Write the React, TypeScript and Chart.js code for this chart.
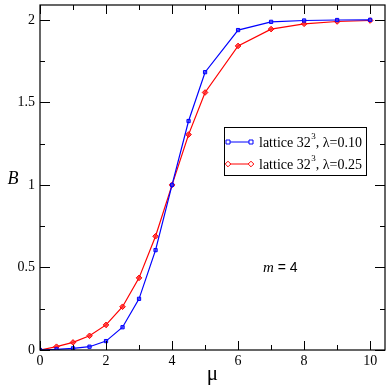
import React, { useEffect, useRef } from "react";
import { Chart, registerables } from "chart.js";

Chart.register(...registerables);

const mu = [0, 0.5, 1, 1.5, 2, 2.5, 3, 3.5, 4, 4.5, 5, 6, 7, 8, 9, 10];
const bLambda010 = [0, 0.004, 0.01, 0.02, 0.054, 0.138, 0.31, 0.605, 1.0, 1.387, 1.683, 1.938, 1.988, 1.996, 1.999, 2.0];
const bLambda025 = [0, 0.02, 0.046, 0.086, 0.152, 0.262, 0.437, 0.689, 1.0, 1.305, 1.56, 1.842, 1.944, 1.976, 1.99, 1.996];

const xMajorTicks = [0, 2, 4, 6, 8, 10];
const xMinorTicks = [1, 3, 5, 7, 9];
const yMajorTicks = [0, 0.5, 1, 1.5, 2];
const yMinorTicks = [0.25, 0.75, 1.25, 1.75];

const seriesLabels = ["λ=0.10", "λ=0.25"];
const FONT = "'Liberation Serif', 'Times New Roman', serif";
const SANS = "'Liberation Sans', Arial, sans-serif";

const framePlugin = {
  id: "frame",
  afterDraw(chart: any) {
    const { ctx, chartArea, scales } = chart;
    const { left, right, top, bottom } = chartArea;
    const xs = scales.x;
    const ys = scales.y;
    ctx.save();
    ctx.strokeStyle = "#000";
    ctx.lineWidth = 1;
    ctx.beginPath();
    const line = (x1: number, y1: number, x2: number, y2: number) => {
      ctx.moveTo(x1, y1);
      ctx.lineTo(x2, y2);
    };
    xMajorTicks.forEach((v) => {
      const p = Math.round(xs.getPixelForValue(v)) + 0.5;
      line(p, bottom, p, bottom - 9);
      line(p, top, p, top + 9);
    });
    xMinorTicks.forEach((v) => {
      const p = Math.round(xs.getPixelForValue(v)) + 0.5;
      line(p, bottom, p, bottom - 5);
      line(p, top, p, top + 5);
    });
    yMajorTicks.forEach((v) => {
      const p = Math.round(ys.getPixelForValue(v)) + 0.5;
      line(left, p, left + 10, p);
      line(right, p, right - 10, p);
    });
    yMinorTicks.forEach((v) => {
      const p = Math.round(ys.getPixelForValue(v)) + 0.5;
      line(left, p, left + 5, p);
      line(right, p, right - 5, p);
    });
    ctx.stroke();
    ctx.lineWidth = 1.2;
    ctx.strokeRect(left, top, right - left, bottom - top);

    // tick labels
    ctx.fillStyle = "#000";
    ctx.font = `14px ${FONT}`;
    ctx.textAlign = "center";
    ctx.textBaseline = "top";
    xMajorTicks.forEach((v) => {
      ctx.fillText(String(v), xs.getPixelForValue(v), bottom + 4);
    });
    ctx.textAlign = "right";
    ctx.textBaseline = "middle";
    yMajorTicks.forEach((v) => {
      ctx.fillText(String(v), left - 5, ys.getPixelForValue(v));
    });

    // axis titles
    ctx.textAlign = "center";
    ctx.textBaseline = "middle";
    ctx.font = `italic 18px ${FONT}`;
    ctx.fillText("B", 13, 179);
    ctx.font = `21px ${FONT}`;
    ctx.fillText("μ", (left + right) / 2, 374);

    // annotation
    ctx.textAlign = "left";
    ctx.font = `italic 15px ${FONT}`;
    ctx.fillText("m", 263, 268);
    const mw = ctx.measureText("m").width;
    ctx.font = `14px ${SANS}`;
    ctx.fillText(" = 4", 263 + mw, 268);

    // legend
    const bx = 224, by = 127, bw = 142, bh = 48;
    ctx.fillStyle = "#fff";
    ctx.fillRect(bx, by, bw, bh);
    ctx.strokeStyle = "#000";
    ctx.lineWidth = 1;
    ctx.strokeRect(bx + 0.5, by + 0.5, bw, bh);
    const rows = [
      { y: 142, color: "#0000ff", style: "rect", label: seriesLabels[0] },
      { y: 164, color: "#ff0000", style: "rectRot", label: seriesLabels[1] },
    ];
    rows.forEach((r) => {
      ctx.strokeStyle = r.color;
      ctx.lineWidth = 1;
      ctx.beginPath();
      ctx.moveTo(228, r.y);
      ctx.lineTo(251, r.y);
      ctx.stroke();
      [228, 251].forEach((px) => {
        ctx.fillStyle = "#fff";
        ctx.beginPath();
        if (r.style === "rect") {
          ctx.rect(px - 2, r.y - 2, 4, 4);
        } else {
          ctx.moveTo(px, r.y - 2.8);
          ctx.lineTo(px + 2.8, r.y);
          ctx.lineTo(px, r.y + 2.8);
          ctx.lineTo(px - 2.8, r.y);
          ctx.closePath();
        }
        ctx.fill();
        ctx.stroke();
      });
      ctx.fillStyle = "#000";
      ctx.textAlign = "left";
      ctx.textBaseline = "middle";
      ctx.font = `14px ${FONT}`;
      let x = 259;
      const t1 = "lattice 32";
      ctx.fillText(t1, x, r.y + 1);
      x += ctx.measureText(t1).width;
      ctx.font = `9px ${FONT}`;
      ctx.fillText("3", x + 0.5, r.y - 5);
      x += ctx.measureText("3").width + 0.5;
      ctx.font = `14px ${FONT}`;
      ctx.fillText(", " + r.label, x, r.y + 1);
    });
    ctx.restore();
  },
};

export default function App() {
  const ref = useRef<HTMLCanvasElement | null>(null);
  useEffect(() => {
    document.body.style.margin = "0";
    if (!ref.current) return;
    const chart = new Chart(ref.current, {
      type: "line",
      data: {
        datasets: [
          {
            label: seriesLabels[0],
            data: mu.map((x, i) => ({ x, y: bLambda010[i] })),
            borderColor: "#0000ff",
            backgroundColor: "rgba(60,60,255,0.7)",
            pointStyle: "rect",
            pointRadius: 2.3,
            pointBorderWidth: 1,
            borderWidth: 1.2,
            tension: 0,
          },
          {
            label: seriesLabels[1],
            data: mu.map((x, i) => ({ x, y: bLambda025[i] })),
            borderColor: "#ff0000",
            backgroundColor: "rgba(255,40,40,0.8)",
            pointStyle: "rectRot",
            pointRadius: 2.8,
            pointBorderWidth: 1,
            borderWidth: 1.2,
            tension: 0,
          },
        ],
      },
      options: {
        animation: false,
        responsive: false,
        devicePixelRatio: 1,
        layout: { padding: { left: 0, right: 3, top: 2, bottom: 0 } },
        plugins: { legend: { display: false }, tooltip: { enabled: false } },
        scales: {
          x: {
            type: "linear",
            min: 0,
            max: 10.45,
            afterBuildTicks: (s: any) => {
              s.ticks = xMajorTicks.map((v) => ({ value: v }));
            },
            afterFit: (s: any) => {
              s.height = 36;
            },
            grid: { display: false, drawTicks: false },
            border: { display: false },
            ticks: { display: false },
          },
          y: {
            type: "linear",
            min: 0,
            max: 2.09,
            afterBuildTicks: (s: any) => {
              s.ticks = yMajorTicks.map((v) => ({ value: v }));
            },
            afterFit: (s: any) => {
              s.width = 40;
            },
            grid: { display: false, drawTicks: false },
            border: { display: false },
            ticks: { display: false },
          },
        },
      },
      plugins: [framePlugin],
    });
    return () => chart.destroy();
  }, []);
  return (
    <div style={{ position: "absolute", left: 0, top: 0, width: 390, height: 386 }}>
      <canvas ref={ref} width={390} height={386} style={{ width: 390, height: 386 }} />
    </div>
  );
}
